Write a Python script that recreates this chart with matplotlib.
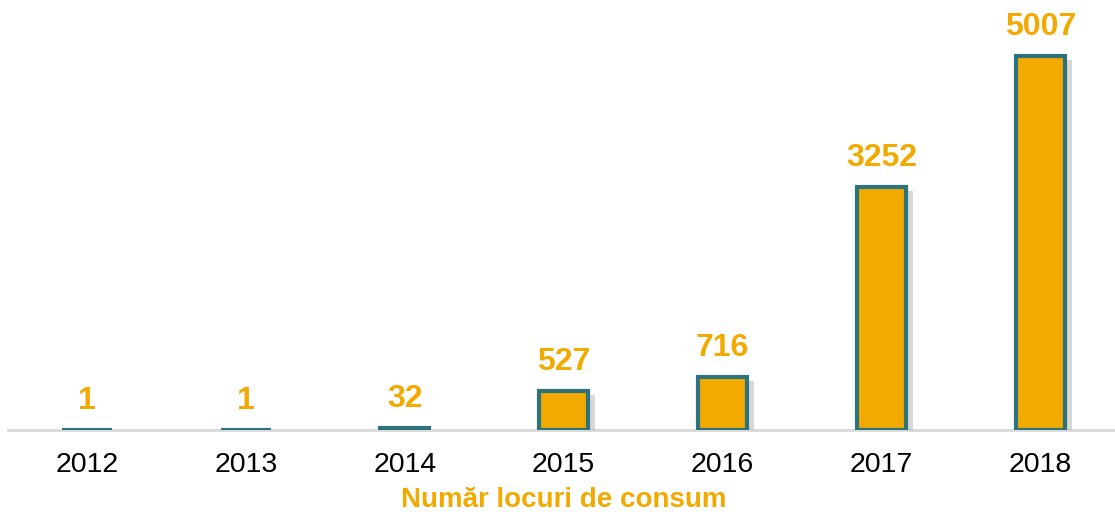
import matplotlib.pyplot as plt
import matplotlib.patheffects as pe

# date
ani = ["2012", "2013", "2014", "2015", "2016", "2017", "2018"]
locuri = [1, 1, 32, 527, 716, 3252, 5007]

portocaliu = "#F2A900"
teal = "#2E727C"

plt.rcParams['font.family'] = ['Liberation Sans', 'DejaVu Sans']

fig = plt.figure(figsize=(11.15, 5.12), dpi=100)
ax = fig.add_axes([7.5 / 1115, 0.16, 1112.5 / 1115, 0.803])

x = range(len(ani))
bare = ax.bar(x, locuri, width=0.31, color=portocaliu, edgecolor=teal,
              linewidth=3, zorder=3)
for b in bare:
    b.set_path_effects([pe.SimplePatchShadow(offset=(5, -3), shadow_rgbFace="gray", alpha=0.3),
                        pe.Normal()])

# etichete valori
for i, v in enumerate(locuri):
    ax.annotate(str(v), (i, v), xytext=(0, 10), textcoords="offset points",
                ha="center", va="bottom", fontsize=23, fontweight="bold",
                color=portocaliu)

ax.set_xlim(-0.5, 6.5)
ax.set_ylim(0, 5500)
ax.set_xticks(list(x))
ax.set_xticklabels(ani, fontsize=20.5)
ax.tick_params(axis="x", length=0, pad=16)
ax.set_yticks([])
for s in ["top", "right", "left"]:
    ax.spines[s].set_visible(False)
ax.spines["bottom"].set_color("#D9D9D9")
ax.spines["bottom"].set_linewidth(2)
ax.spines["bottom"].set_zorder(1)

ax.set_xlabel("Număr locuri de consum", fontsize=20, fontweight="bold",
              color=portocaliu, labelpad=6)

fig.savefig("out.png", dpi=100)
